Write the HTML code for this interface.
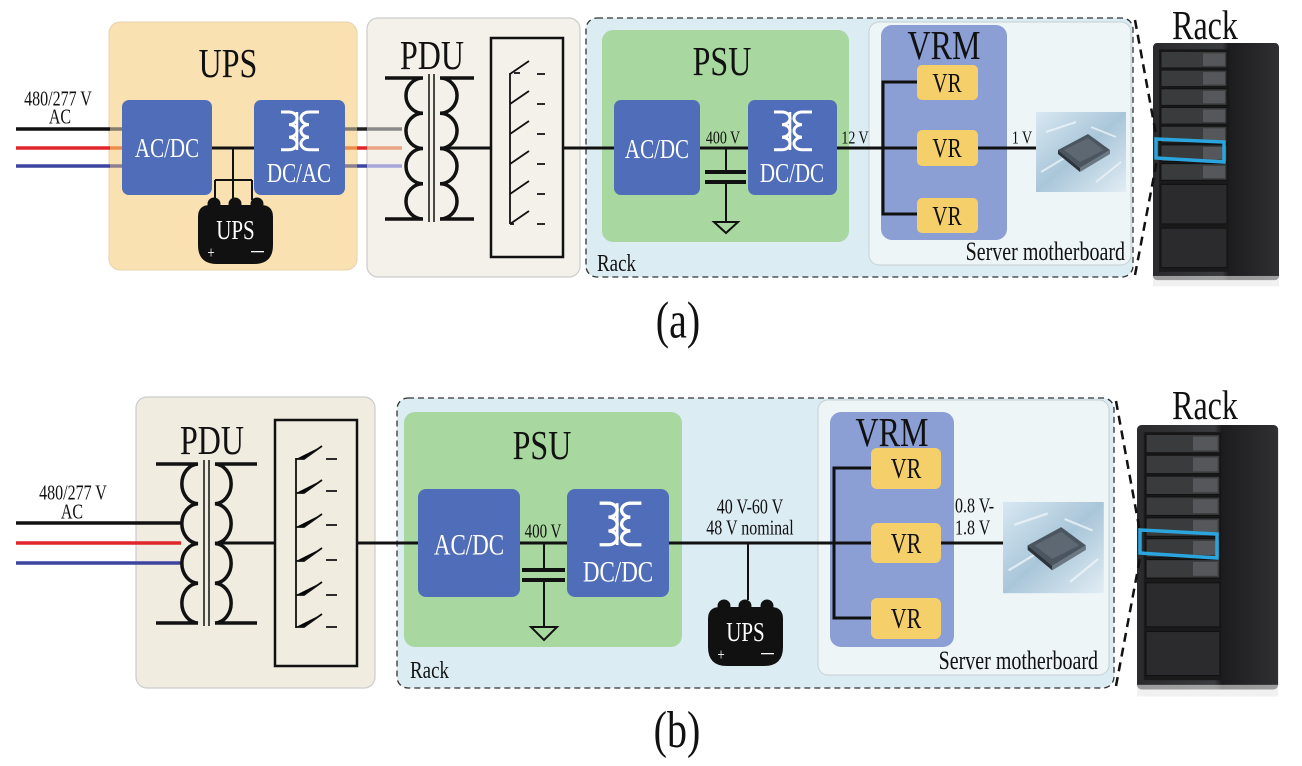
<!DOCTYPE html>
<html><head><meta charset="utf-8"><style>
html,body{margin:0;padding:0;background:#fff;}
svg{display:block;}
text{font-family:"Liberation Serif",serif;transform-box:fill-box;transform-origin:center;transform:scaleY(1.3);}
</style></head><body>
<svg width="1302" height="766" viewBox="0 0 1302 766" xmlns="http://www.w3.org/2000/svg">
<defs>
<linearGradient id="chip" x1="0" y1="0" x2="1" y2="1">
<stop offset="0" stop-color="#d8e8f2"/><stop offset="0.5" stop-color="#a9c6d9"/><stop offset="1" stop-color="#e2edf4"/>
</linearGradient>
<linearGradient id="rackg" x1="0" y1="0" x2="1" y2="0">
<stop offset="0" stop-color="#2a2a2c"/><stop offset="0.55" stop-color="#3a3b3e"/><stop offset="0.6" stop-color="#1c1c1e"/><stop offset="1" stop-color="#303033"/>
</linearGradient>
<g id="chipimg">
<rect x="0" y="0" width="90" height="80" fill="url(#chip)"/>
<path d="M5 60 L30 45 M60 70 L85 50 M10 20 L40 10 M55 15 L80 25" stroke="#f4f8fb" stroke-width="2" opacity="0.7"/>
<polygon points="22,38 52,22 74,38 44,56" fill="#4a5560"/>
<polygon points="22,38 44,56 44,60 22,42" fill="#2c333a"/>
<polygon points="44,56 74,38 74,42 44,60" fill="#6b7782"/>
<polygon points="28,38 52,26 68,38 44,50" fill="#5d6873"/>
</g>
<g id="batt">
<circle cx="16" cy="9" r="6.5" fill="#111"/><circle cx="37" cy="9" r="6.5" fill="#111"/><circle cx="59" cy="9" r="6.5" fill="#111"/>
<path d="M0 22 Q0 10 12 10 H63 Q75 10 75 22 V50 Q75 69 56 69 H19 Q0 69 0 50 Z" fill="#111"/>
<text x="37.5" y="42" font-size="21" fill="#fff" text-anchor="middle">UPS</text>
<text x="13" y="62" font-size="13" fill="#fff" text-anchor="middle">+</text>
<rect x="53" y="56" width="13" height="1.3" fill="#fff"/>
</g>
<g id="xf">
<path d="M6 2 H14 A8 6.3 0 0 1 14 14.6 A8 6.3 0 0 1 14 27.2 A8 6.3 0 0 1 14 39.8 H6" fill="none" stroke="#fff" stroke-width="3"/>
<path d="M44 2 H34 A8 6.3 0 0 0 34 14.6 A8 6.3 0 0 0 34 27.2 A8 6.3 0 0 0 34 39.8 H44" fill="none" stroke="#fff" stroke-width="3"/>
<path d="M22 2 V40" stroke="#fff" stroke-width="2.5"/>
</g>
<g id="rackA">
<rect x="0" y="0" width="126" height="228" rx="4" fill="url(#rackg)"/>
<rect x="6" y="6" width="70" height="214" fill="#1a1a1b"/>
<g fill="#3a3b3d" stroke="#111" stroke-width="1">
<rect x="8" y="8" width="66" height="16"/><rect x="8" y="26" width="66" height="16"/><rect x="8" y="44" width="66" height="16"/><rect x="8" y="62" width="66" height="16"/><rect x="8" y="80" width="66" height="16"/><rect x="8" y="98" width="66" height="16"/><rect x="8" y="116" width="66" height="16"/>
<rect x="8" y="136" width="66" height="38" fill="#2b2b2d"/><rect x="8" y="178" width="66" height="38" fill="#2b2b2d"/>
</g>
<g fill="#55575a"><rect x="50" y="10" width="22" height="12"/><rect x="50" y="28" width="22" height="12"/><rect x="50" y="46" width="22" height="12"/><rect x="50" y="64" width="22" height="12"/><rect x="50" y="82" width="22" height="12"/><rect x="50" y="100" width="22" height="12"/><rect x="50" y="118" width="22" height="12"/></g>
<rect x="0" y="224" width="126" height="10" fill="#e8e8e8" opacity="0.6"/>
</g>
</defs>

<!-- ================= (a) ================= -->
<rect x="109" y="22" width="248" height="248" rx="11" fill="#f9e1b2" stroke="#e6d2ac" stroke-width="1"/>
<text x="228" y="74" font-size="32" text-anchor="middle" fill="#111">UPS</text>
<rect x="367" y="18" width="213" height="259" rx="11" fill="#f3f1e9" stroke="#ccc" stroke-width="1.2"/>
<text x="432" y="66" font-size="32" text-anchor="middle" fill="#111">PDU</text>
<rect x="586" y="18" width="547" height="259" rx="11" fill="#dcecf3" stroke="#333" stroke-width="1.3" stroke-dasharray="6,4"/>
<rect x="602" y="30" width="247" height="212" rx="11" fill="#a8d8a0"/>
<text x="722" y="72" font-size="32" text-anchor="middle" fill="#111">PSU</text>
<rect x="869" y="22" width="262" height="243" rx="10" fill="#eef5f7" stroke="#c5cfd3" stroke-width="1"/>
<rect x="881" y="25" width="126" height="215" rx="11" fill="#8b9fd4"/>
<text x="944" y="56" font-size="32" text-anchor="middle" fill="#111">VRM</text>
<text x="597" y="269" font-size="19" fill="#111">Rack</text>
<text x="1125" y="258" font-size="20" fill="#111" text-anchor="end">Server motherboard</text>

<text x="58" y="104" font-size="16" text-anchor="middle" fill="#111">480/277 V</text>
<text x="60" y="122" font-size="16" text-anchor="middle" fill="#111">AC</text>
<line x1="16" y1="129" x2="110" y2="129" stroke="#111" stroke-width="3.5"/>
<line x1="16" y1="148" x2="110" y2="148" stroke="#e0262a" stroke-width="3.5"/>
<line x1="16" y1="166" x2="110" y2="166" stroke="#3c44a0" stroke-width="3.5"/>
<line x1="110" y1="129" x2="122" y2="129" stroke="#877c6e" stroke-width="3.5"/>
<line x1="110" y1="148" x2="122" y2="148" stroke="#ee8c4c" stroke-width="3.5"/>
<line x1="110" y1="166" x2="122" y2="166" stroke="#8d7f90" stroke-width="3.5"/>
<rect x="122" y="100" width="90" height="95" rx="7" fill="#4f6db8"/>
<text x="167" y="155" font-size="21" fill="#fff" text-anchor="middle">AC/DC</text>
<line x1="212" y1="148" x2="254" y2="148" stroke="#111" stroke-width="3"/>
<path d="M233 148 V200 M215 180 H252 M215 180 V200 M252 180 V200" stroke="#111" stroke-width="2" fill="none"/>
<use href="#batt" x="198" y="195"/>
<rect x="254" y="100" width="91" height="95" rx="7" fill="#4f6db8"/>
<use href="#xf" x="275" y="110"/>
<text x="299" y="180" font-size="21" fill="#fff" text-anchor="middle">DC/AC</text>
<line x1="345" y1="129" x2="357" y2="129" stroke="#877c6e" stroke-width="3.5"/>
<line x1="357" y1="129" x2="367" y2="129" stroke="#222" stroke-width="3.5"/>
<line x1="367" y1="129" x2="402" y2="129" stroke="#8a8a88" stroke-width="3.5"/>
<line x1="345" y1="148" x2="357" y2="148" stroke="#ee8c4c" stroke-width="3.5"/>
<line x1="357" y1="148" x2="367" y2="148" stroke="#e0262a" stroke-width="3.5"/>
<line x1="367" y1="148" x2="402" y2="148" stroke="#eba486" stroke-width="3.5"/>
<line x1="345" y1="166" x2="357" y2="166" stroke="#8d7f90" stroke-width="3.5"/>
<line x1="357" y1="166" x2="367" y2="166" stroke="#3c44a0" stroke-width="3.5"/>
<line x1="367" y1="166" x2="402" y2="166" stroke="#a8a6d8" stroke-width="3.5"/>
<path d="M385 78 H423 A17 17.6 0 0 0 423 113.25 A17 17.6 0 0 0 423 148.5 A17 17.6 0 0 0 423 183.75 A17 17.6 0 0 0 423 219 H385" fill="none" stroke="#111" stroke-width="3.5"/>
<path d="M474 78 H440 A17 17.6 0 0 1 440 113.25 A17 17.6 0 0 1 440 148.5 A17 17.6 0 0 1 440 183.75 A17 17.6 0 0 1 440 219 H474" fill="none" stroke="#111" stroke-width="3.5"/>
<path d="M429 74 V222 M434 74 V222" stroke="#111" stroke-width="1.5"/>
<line x1="440" y1="148" x2="491" y2="148" stroke="#111" stroke-width="3"/>
<rect x="491" y="38" width="72" height="219" fill="none" stroke="#111" stroke-width="2.5"/>
<path d="M514 73 H520 M510 73 V224 M510 224 H514" stroke="#111" stroke-width="1.8" fill="none"/>
<g stroke="#111" stroke-width="1.8">
<path d="M510 74 L529 61 M537 74 H545"/>
<path d="M510 104 L529 91 M537 104 H545"/>
<path d="M510 134 L529 121 M537 134 H545"/>
<path d="M510 164 L529 151 M537 164 H545"/>
<path d="M510 194 L529 181 M537 194 H545"/>
<path d="M510 224 L529 211 M537 224 H545"/>
</g>
<line x1="563" y1="148" x2="614" y2="148" stroke="#111" stroke-width="3"/>
<rect x="614" y="100" width="86" height="95" rx="7" fill="#4f6db8"/>
<text x="657" y="156" font-size="21" fill="#fff" text-anchor="middle">AC/DC</text>
<line x1="700" y1="148" x2="748" y2="148" stroke="#111" stroke-width="3"/>
<text x="723" y="142" font-size="14" fill="#111" text-anchor="middle">400 V</text>
<path d="M726 148 V172 M726 182 V222" stroke="#111" stroke-width="2"/>
<path d="M705 172 H746 M705 182 H746" stroke="#111" stroke-width="4"/>
<path d="M714 222 H738 L726 233 Z" fill="none" stroke="#111" stroke-width="2"/>
<rect x="748" y="100" width="89" height="95" rx="7" fill="#4f6db8"/>
<use href="#xf" x="768" y="110"/>
<text x="792" y="180" font-size="21" fill="#fff" text-anchor="middle">DC/DC</text>
<line x1="837" y1="148" x2="917" y2="148" stroke="#111" stroke-width="3"/>
<text x="855" y="142" font-size="14" fill="#111" text-anchor="middle">12 V</text>
<path d="M917 82 H883 V214 H917" fill="none" stroke="#111" stroke-width="3"/>
<rect x="917" y="65" width="61" height="35" rx="5" fill="#f5cf6a"/>
<rect x="917" y="130" width="61" height="36" rx="5" fill="#f5cf6a"/>
<rect x="917" y="198" width="61" height="35" rx="5" fill="#f5cf6a"/>
<text x="947" y="90" font-size="21" text-anchor="middle" fill="#111">VR</text>
<text x="947" y="155" font-size="21" text-anchor="middle" fill="#111">VR</text>
<text x="947" y="223" font-size="21" text-anchor="middle" fill="#111">VR</text>
<line x1="978" y1="148" x2="1036" y2="148" stroke="#111" stroke-width="3"/>
<text x="1022" y="142" font-size="14" fill="#111" text-anchor="middle">1 V</text>
<use href="#chipimg" transform="translate(1036,112)"/>
<text x="1205" y="36" font-size="32" text-anchor="middle" fill="#111">Rack</text>
<use href="#rackA" transform="translate(1153,43) scale(1,1.04)"/>
<path d="M1135 20 L1157 140 M1135 275 L1157 160" stroke="#111" stroke-width="2.5" stroke-dasharray="9,6"/>
<path d="M1156 139 L1224 142 L1224 162 L1156 158 Z" fill="none" stroke="#2aa5dd" stroke-width="3.5"/>
<text x="678" y="334" font-size="40" text-anchor="middle" fill="#111">(a)</text>

<!-- ================= (b) ================= -->
<rect x="136" y="397" width="239" height="291" rx="11" fill="#f0ece0" stroke="#ccc" stroke-width="1.2"/>
<text x="212" y="451" font-size="32" text-anchor="middle" fill="#111">PDU</text>
<rect x="397" y="398" width="717" height="290" rx="11" fill="#dcecf3" stroke="#333" stroke-width="1.3" stroke-dasharray="6,4"/>
<rect x="404" y="412" width="278" height="235" rx="11" fill="#a8d8a0"/>
<text x="542" y="456" font-size="32" text-anchor="middle" fill="#111">PSU</text>
<rect x="818" y="400" width="291" height="275" rx="10" fill="#eef5f7" stroke="#c5cfd3" stroke-width="1"/>
<rect x="830" y="412" width="124" height="235" rx="11" fill="#8b9fd4"/>
<text x="892" y="443" font-size="32" text-anchor="middle" fill="#111">VRM</text>
<text x="410" y="676" font-size="19" fill="#111">Rack</text>
<text x="1098" y="667" font-size="20" fill="#111" text-anchor="end">Server motherboard</text>

<text x="73" y="498" font-size="16" text-anchor="middle" fill="#111">480/277 V</text>
<text x="72" y="517" font-size="16" text-anchor="middle" fill="#111">AC</text>
<line x1="16" y1="523" x2="181" y2="523" stroke="#111" stroke-width="3.5"/>
<line x1="16" y1="543" x2="181" y2="543" stroke="#e0262a" stroke-width="3.5"/>
<line x1="16" y1="563" x2="181" y2="563" stroke="#3c44a0" stroke-width="3.5"/>
<path d="M156 464 H198 A17 19.9 0 0 0 198 503.75 A17 19.9 0 0 0 198 543.5 A17 19.9 0 0 0 198 583.25 A17 19.9 0 0 0 198 623 H156" fill="none" stroke="#111" stroke-width="3.5"/>
<path d="M257 464 H215 A17 19.9 0 0 1 215 503.75 A17 19.9 0 0 1 215 543.5 A17 19.9 0 0 1 215 583.25 A17 19.9 0 0 1 215 623 H257" fill="none" stroke="#111" stroke-width="3.5"/>
<path d="M204 460 V626 M209 460 V626" stroke="#111" stroke-width="1.5"/>
<line x1="215" y1="543" x2="275" y2="543" stroke="#111" stroke-width="3"/>
<rect x="275" y="420" width="82" height="246" fill="none" stroke="#111" stroke-width="2.5"/>
<path d="M296 458 V628" stroke="#111" stroke-width="1.8"/>
<g stroke="#111" stroke-width="1.8">
<path d="M296 459 H304 L322 446 M326 459 H337"/>
<path d="M296 493 H304 L322 480 M326 491 H337"/>
<path d="M296 527 H304 L322 514 M326 525 H337"/>
<path d="M296 561 H304 L322 548 M326 560 H337"/>
<path d="M296 595 H304 L322 582 M326 595 H337"/>
<path d="M296 627 H304 L322 614 M326 627 H337"/>
</g>
<line x1="357" y1="543" x2="418" y2="543" stroke="#111" stroke-width="3"/>
<rect x="418" y="489" width="102" height="108" rx="8" fill="#4f6db8"/>
<text x="469" y="552" font-size="23" fill="#fff" text-anchor="middle">AC/DC</text>
<line x1="520" y1="543" x2="567" y2="543" stroke="#111" stroke-width="3"/>
<text x="543" y="536" font-size="15" fill="#111" text-anchor="middle">400 V</text>
<path d="M544 543 V570 M544 580 V627" stroke="#111" stroke-width="2"/>
<path d="M522 570 H565 M522 580 H565" stroke="#111" stroke-width="4"/>
<path d="M531 627 H557 L544 640 Z" fill="none" stroke="#111" stroke-width="2"/>
<rect x="567" y="489" width="102" height="108" rx="8" fill="#4f6db8"/>
<g transform="translate(593,501) scale(1.1,1.1)"><use href="#xf"/></g>
<text x="618" y="579" font-size="23" fill="#fff" text-anchor="middle">DC/DC</text>
<line x1="669" y1="543" x2="871" y2="543" stroke="#111" stroke-width="3"/>
<text x="750" y="512" font-size="16" fill="#111" text-anchor="middle">40 V-60 V</text>
<text x="750" y="533" font-size="16" fill="#111" text-anchor="middle">48 V nominal</text>
<path d="M748 543 V600" stroke="#111" stroke-width="2"/>
<use href="#batt" x="708" y="597"/>
<path d="M871 468 H834 V618 H871" fill="none" stroke="#111" stroke-width="3"/>
<rect x="871" y="448" width="70" height="41" rx="6" fill="#f5cf6a"/>
<rect x="871" y="523" width="70" height="40" rx="6" fill="#f5cf6a"/>
<rect x="871" y="598" width="70" height="41" rx="6" fill="#f5cf6a"/>
<text x="906" y="476" font-size="22" text-anchor="middle" fill="#111">VR</text>
<text x="906" y="551" font-size="22" text-anchor="middle" fill="#111">VR</text>
<text x="906" y="626" font-size="22" text-anchor="middle" fill="#111">VR</text>
<line x1="941" y1="543" x2="1003" y2="543" stroke="#111" stroke-width="3"/>
<text x="955" y="511" font-size="16" fill="#111">0.8 V-</text>
<text x="955" y="533" font-size="16" fill="#111">1.8 V</text>
<use href="#chipimg" transform="translate(1003,502) scale(1.12,1.14)"/>
<text x="1205" y="416" font-size="32" text-anchor="middle" fill="#111">Rack</text>
<use href="#rackA" transform="translate(1137,425) scale(1.12,1.16)"/>
<path d="M1116 401 L1140 532 M1116 686 L1140 558" stroke="#111" stroke-width="2.5" stroke-dasharray="9,6"/>
<path d="M1140 530 L1217 534 L1217 558 L1140 553 Z" fill="none" stroke="#2aa5dd" stroke-width="3.5"/>
<text x="677" y="743" font-size="40" text-anchor="middle" fill="#111">(b)</text>
</svg>
</body></html>
